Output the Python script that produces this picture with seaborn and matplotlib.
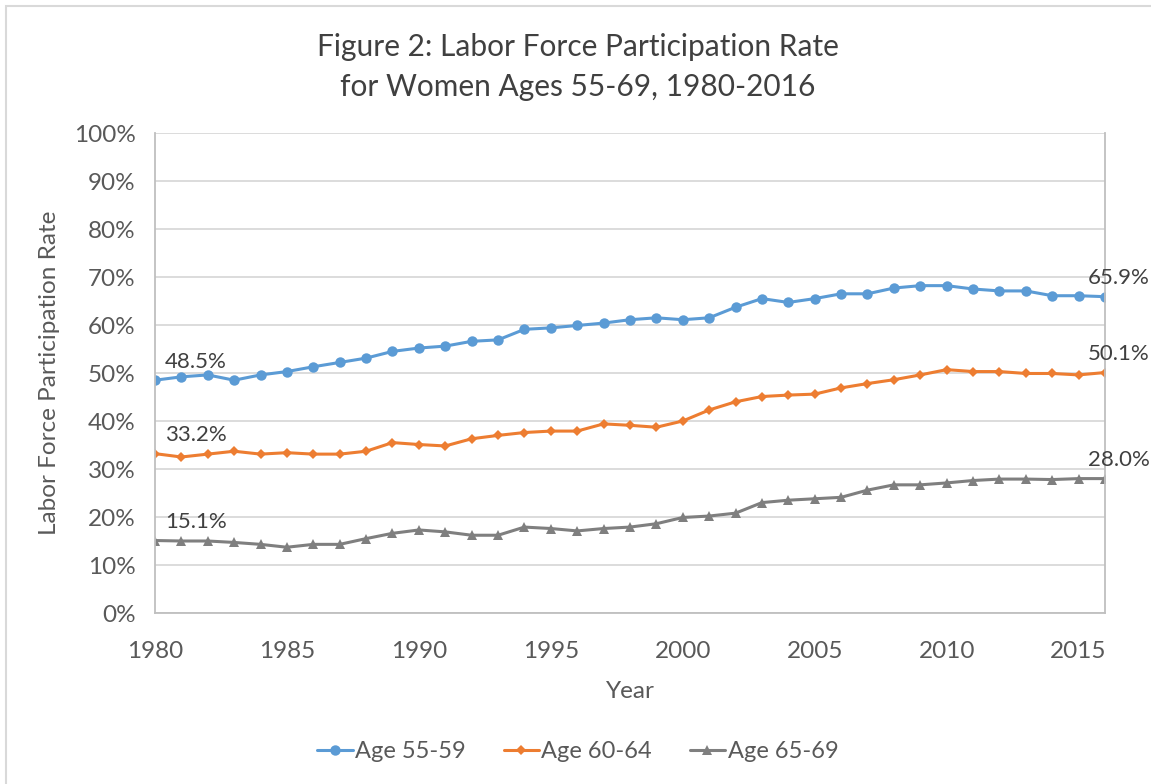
import numpy as np
import matplotlib.pyplot as plt
from matplotlib.patches import Rectangle
from matplotlib.ticker import FuncFormatter, MultipleLocator
import pandas as pd
import seaborn as sns

# Data
years = list(range(1980, 2017))
age_55_59 = [48.5, 49.2, 49.6, 48.5, 49.6, 50.3, 51.3, 52.2, 53.1, 54.5,
             55.2, 55.6, 56.6, 56.9, 59.1, 59.4, 59.9, 60.4, 61.1, 61.5,
             61.1, 61.5, 63.7, 65.5, 64.7, 65.5, 66.5, 66.5, 67.7, 68.2,
             68.2, 67.5, 67.1, 67.1, 66.1, 66.1, 65.9]
age_60_64 = [33.2, 32.5, 33.1, 33.7, 33.1, 33.4, 33.1, 33.1, 33.7, 35.5,
             35.1, 34.8, 36.3, 37.0, 37.6, 37.9, 37.9, 39.4, 39.1, 38.7,
             40.0, 42.3, 44.0, 45.1, 45.4, 45.6, 46.9, 47.8, 48.6, 49.6,
             50.7, 50.3, 50.3, 49.9, 49.9, 49.6, 50.1]
age_65_69 = [15.1, 15.0, 15.0, 14.7, 14.3, 13.7, 14.3, 14.3, 15.5, 16.6,
             17.3, 16.9, 16.2, 16.2, 17.9, 17.6, 17.1, 17.6, 17.9, 18.6,
             19.9, 20.2, 20.8, 23.0, 23.5, 23.8, 24.1, 25.6, 26.7, 26.7,
             27.1, 27.6, 27.9, 27.9, 27.8, 28.0, 28.0]
series_names = ['Age 55-59', 'Age 60-64', 'Age 65-69']

df = pd.concat([
    pd.DataFrame({'Year': years, 'Rate': vals, 'Group': name})
    for name, vals in zip(series_names, [age_55_59, age_60_64, age_65_69])
])

sns.set_style('white')
plt.rcParams['font.family'] = ['Lato', 'DejaVu Sans']

palette = {'Age 55-59': '#5B9BD5', 'Age 60-64': '#ED7D31', 'Age 65-69': '#7F7F7F'}
markers = {'Age 55-59': 'o', 'Age 60-64': 'D', 'Age 65-69': '^'}
text_col = '#595959'

fig = plt.figure(figsize=(11.51, 7.84), dpi=100)
ax = fig.add_axes([155 / 1151, 1 - 613 / 784, 950 / 1151, 480 / 784])

sns.lineplot(data=df, x='Year', y='Rate', hue='Group', style='Group',
             palette=palette, markers=markers, dashes=False, linewidth=2.2,
             markersize=7.5, markeredgewidth=0, ax=ax, legend=False)
# orange diamonds are a little smaller in the original
for line, name in zip(ax.lines, series_names):
    if name == 'Age 60-64':
        line.set_markersize(5.5)

ax.set_xlim(1980, 2016)
ax.set_ylim(0, 100)
ax.yaxis.set_major_locator(MultipleLocator(10))
ax.yaxis.set_major_formatter(FuncFormatter(lambda v, _: f'{v:.0f}%'))
ax.set_xticks(range(1980, 2016, 5))
ax.set_xticks(range(1980, 2017), minor=True)
ax.grid(axis='y', color='#D9D9D9', linewidth=1.3)
ax.set_axisbelow(True)
for side in ['left', 'bottom', 'right']:
    ax.spines[side].set_color('#BFBFBF')
    ax.spines[side].set_linewidth(1.3)
ax.spines['top'].set_visible(False)
ax.tick_params(axis='x', which='both', direction='in', length=5, color='#BFBFBF',
               width=1.3, labelsize=17.5, labelcolor=text_col, pad=20)
ax.tick_params(axis='y', length=0, labelsize=17.5, labelcolor=text_col, pad=14)

ax.set_xlabel('Year', fontsize=17.5, color=text_col, labelpad=14)
ax.set_ylabel('Labor Force Participation Rate', fontsize=17.5, color=text_col, labelpad=10)

# first / last value labels
for name, vals in zip(series_names, [age_55_59, age_60_64, age_65_69]):
    ax.annotate(f'{vals[0]:.1f}%', (years[0], vals[0]), xytext=(7, 6),
                textcoords='offset points', fontsize=16, color='#404040',
                ha='left', va='bottom')
    ax.annotate(f'{vals[-1]:.1f}%', (years[-1], vals[-1]), xytext=(10, 6),
                textcoords='offset points', fontsize=16, color='#404040',
                ha='center', va='bottom', annotation_clip=False)

fig.text(0.502, 1 - 47 / 784, 'Figure 2: Labor Force Participation Rate',
         ha='center', va='center', fontsize=21.5, color='#404040')
fig.text(0.502, 1 - 87 / 784, 'for Women Ages 55-69, 1980-2016',
         ha='center', va='center', fontsize=21.5, color='#404040')

handles = [plt.Line2D([], [], color=palette[n], marker=markers[n], linewidth=2.2,
                      markersize=7.5 if n != 'Age 60-64' else 5.5, markeredgewidth=0)
           for n in series_names]
fig.legend(handles, series_names, loc='center', bbox_to_anchor=(0.502, 1 - 752 / 784),
           ncol=3, frameon=False, fontsize=17, labelcolor=text_col,
           handlelength=1.5, handletextpad=0.1, columnspacing=1.6)

# outer chart frame
fig.patches.append(Rectangle((6 / 1151, -0.05), 1.2, 1 - 6 / 784 + 0.05,
                             transform=fig.transFigure, fill=False,
                             edgecolor='#D9D9D9', linewidth=1.5))

fig.savefig('out.png', dpi=100)
